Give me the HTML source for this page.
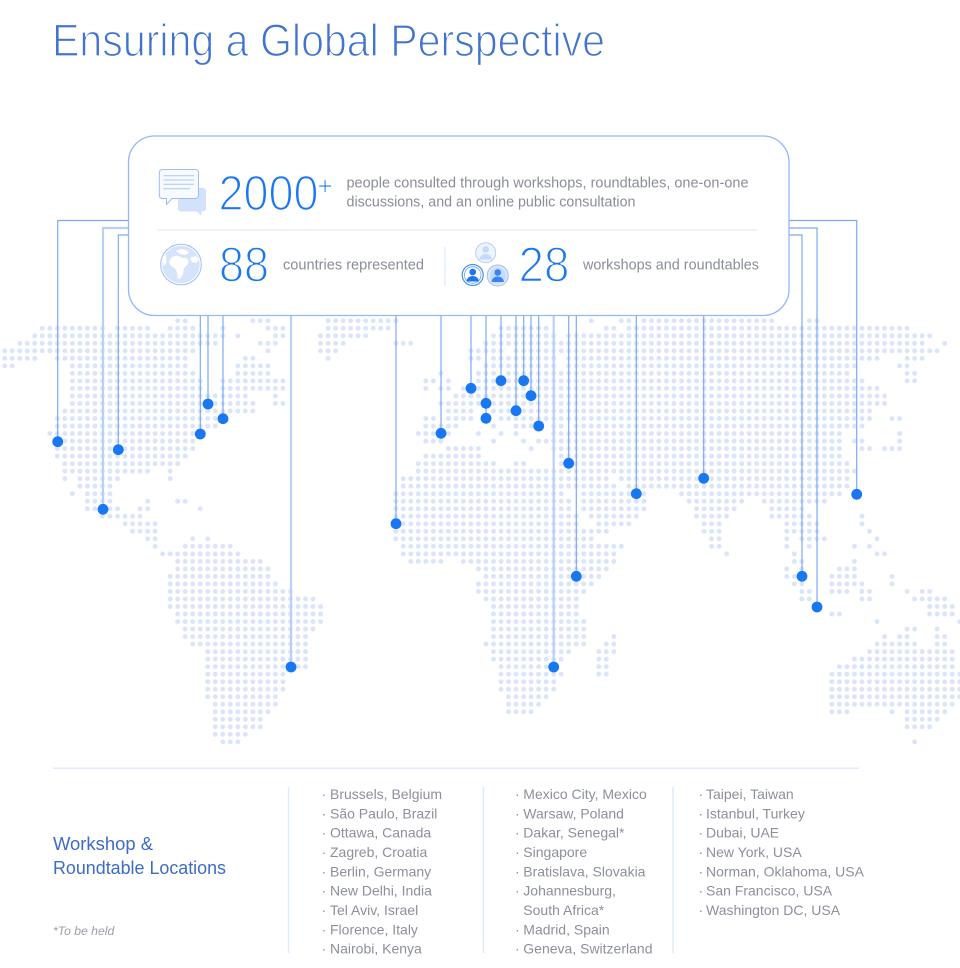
<!DOCTYPE html>
<html><head><meta charset="utf-8"><style>
html,body{margin:0;padding:0;background:#fff;}
svg{display:block;}
</style></head><body>
<svg width="960" height="968" viewBox="0 0 960 968" xmlns="http://www.w3.org/2000/svg" font-family="'Liberation Sans', sans-serif">
<defs>
<pattern id="d" width="1" height="1" patternUnits="userSpaceOnUse"><circle cx="0.5" cy="0.5" r="0.33" fill="#dae5fb"/></pattern>
</defs>
<rect width="960" height="968" fill="#fff"/>
<text x="52" y="56" font-size="45" fill="#4174cf" stroke="#fff" stroke-width="1.3" textLength="553" lengthAdjust="spacingAndGlyphs">Ensuring a Global Perspective</text>

<g transform="translate(0.94 316.94) scale(7.52)">
<path fill="url(#d)" d="
M23 0h2v1h-2z M33 0h3v1h-3z M43 0h10v1h-10z M78 0h1v1h-1z M82 0h2v1h-2z M85 0h18v1h-18z M107 0h2v1h-2z
M5 1h9v1h-9z M15 1h5v1h-5z M22 1h4v1h-4z M29 1h1v1h-1z M35 1h3v1h-3z M43 1h9v1h-9z M66 1h7v1h-7z M80 1h2v1h-2z M83 1h38v1h-38z
M4 2h26v1h-26z M31 2h1v1h-1z M36 2h2v1h-2z M42 2h7v1h-7z M65 2h9v1h-9z M75 2h49v1h-49z
M2 3h27v1h-27z M34 3h3v1h-3z M42 3h4v1h-4z M52 3h3v1h-3z M64 3h59v1h-59z M125 3h1v1h-1z
M0 4h26v1h-26z M35 4h1v1h-1z M42 4h3v1h-3z M62 4h5v1h-5z M68 4h57v1h-57z
M0 5h5v1h-5z M7 5h18v1h-18z M32 5h2v1h-2z M43 5h1v1h-1z M62 5h2v1h-2z M65 5h9v1h-9z M75 5h42v1h-42z M120 5h3v1h-3z
M0 6h2v1h-2z M9 6h16v1h-16z M31 6h5v1h-5z M64 6h10v1h-10z M75 6h39v1h-39z M119 6h2v1h-2z
M9 7h17v1h-17z M31 7h5v1h-5z M58 7h1v1h-1z M63 7h3v1h-3z M67 7h46v1h-46z M120 7h2v1h-2z
M9 8h18v1h-18z M29 8h9v1h-9z M56 8h2v1h-2z M59 8h1v1h-1z M63 8h3v1h-3z M67 8h48v1h-48z M120 8h2v1h-2z
M9 9h18v1h-18z M29 9h9v1h-9z M56 9h1v1h-1z M58 9h2v1h-2z M61 9h56v1h-56z
M9 10h24v1h-24z M36 10h1v1h-1z M60 10h58v1h-58z
M9 11h25v1h-25z M36 11h2v1h-2z M58 11h60v1h-60z
M8 12h26v1h-26z M59 12h4v1h-4z M65 12h51v1h-51z
M7 13h23v1h-23z M56 13h2v1h-2z M59 13h4v1h-4z M66 13h50v1h-50z M118 13h2v1h-2z
M7 14h22v1h-22z M56 14h5v1h-5z M65 14h1v1h-1z M68 14h4v1h-4z M73 14h2v1h-2z M76 14h39v1h-39z
M6 15h21v1h-21z M55 15h5v1h-5z M63 15h1v1h-1z M66 15h1v1h-1z M68 15h1v1h-1z M73 15h39v1h-39z M119 15h1v1h-1z
M7 16h19v1h-19z M56 16h3v1h-3z M65 16h1v1h-1z M69 16h1v1h-1z M71 16h41v1h-41z M113 16h2v1h-2z M119 16h1v1h-1z
M7 17h19v1h-19z M59 17h5v1h-5z M70 17h1v1h-1z M73 17h39v1h-39z M114 17h2v1h-2z M117 17h3v1h-3z
M7 18h18v1h-18z M56 18h8v1h-8z M74 18h38v1h-38z
M8 19h16v1h-16z M55 19h11v1h-11z M68 19h2v1h-2z M74 19h39v1h-39z
M8 20h12v1h-12z M22 20h1v1h-1z M55 20h59v1h-59z
M8 21h1v1h-1z M10 21h6v1h-6z M22 21h1v1h-1z M53 21h28v1h-28z M82 21h31v1h-31z
M10 22h5v1h-5z M53 22h29v1h-29z M83 22h30v1h-30z
M9 23h1v1h-1z M11 23h4v1h-4z M52 23h23v1h-23z M77 23h9v1h-9z M90 23h22v1h-22z
M11 24h4v1h-4z M19 24h1v1h-1z M23 24h2v1h-2z M52 24h24v1h-24z M77 24h9v1h-9z M91 24h8v1h-8z M101 24h9v1h-9z
M11 25h5v1h-5z M18 25h2v1h-2z M26 25h1v1h-1z M52 25h24v1h-24z M77 25h9v1h-9z M92 25h6v1h-6z M102 25h5v1h-5z
M13 26h6v1h-6z M52 26h25v1h-25z M78 26h7v1h-7z M92 26h5v1h-5z M102 26h6v1h-6z M114 26h1v1h-1z
M16 27h5v1h-5z M52 27h25v1h-25z M79 27h5v1h-5z M93 27h3v1h-3z M104 27h5v1h-5z M114 27h1v1h-1z
M17 28h4v1h-4z M52 28h29v1h-29z M93 28h3v1h-3z M104 28h5v1h-5z M115 28h1v1h-1z
M19 29h2v1h-2z M25 29h1v1h-1z M27 29h1v1h-1z M52 29h27v1h-27z M94 29h2v1h-2z M104 29h1v1h-1z M106 29h4v1h-4z M116 29h1v1h-1z
M20 30h1v1h-1z M24 30h7v1h-7z M53 30h30v1h-30z M94 30h2v1h-2z M104 30h1v1h-1z M107 30h1v1h-1z M113 30h1v1h-1z M115 30h1v1h-1z
M21 31h11v1h-11z M53 31h29v1h-29z M96 31h1v1h-1z M105 31h1v1h-1z M116 31h2v1h-2z
M23 32h12v1h-12z M54 32h5v1h-5z M61 32h21v1h-21z M105 32h2v1h-2z M113 32h1v1h-1z
M23 33h13v1h-13z M63 33h18v1h-18z M104 33h1v1h-1z M106 33h1v1h-1z M111 33h3v1h-3z
M22 34h14v1h-14z M64 34h16v1h-16z M104 34h3v1h-3z M110 34h4v1h-4z M118 34h1v1h-1z
M22 35h15v1h-15z M63 35h16v1h-16z M105 35h2v1h-2z M110 35h5v1h-5z M118 35h1v1h-1z
M22 36h17v1h-17z M63 36h15v1h-15z M106 36h2v1h-2z M110 36h3v1h-3z M114 36h2v1h-2z M120 36h1v1h-1z M122 36h2v1h-2z
M22 37h20v1h-20z M64 37h13v1h-13z M106 37h2v1h-2z M114 37h2v1h-2z M121 37h5v1h-5z
M22 38h21v1h-21z M65 38h12v1h-12z M123 38h4v1h-4z
M23 39h20v1h-20z M65 39h12v1h-12z M110 39h2v1h-2z M123 39h4v1h-4z
M23 40h20v1h-20z M65 40h13v1h-13z M116 40h1v1h-1z M127 40h1v1h-1z
M24 41h18v1h-18z M65 41h13v1h-13z M120 41h2v1h-2z M124 41h1v1h-1z
M24 42h17v1h-17z M65 42h13v1h-13z M81 42h1v1h-1z M117 42h1v1h-1z M119 42h2v1h-2z M124 42h2v1h-2z
M25 43h16v1h-16z M64 43h14v1h-14z M80 43h2v1h-2z M116 43h6v1h-6z M124 43h2v1h-2z
M27 44h14v1h-14z M65 44h11v1h-11z M79 44h3v1h-3z M115 44h12v1h-12z
M27 45h14v1h-14z M65 45h10v1h-10z M79 45h2v1h-2z M113 45h14v1h-14z
M27 46h14v1h-14z M66 46h8v1h-8z M79 46h2v1h-2z M111 46h16v1h-16z
M27 47h11v1h-11z M66 47h9v1h-9z M79 47h2v1h-2z M110 47h18v1h-18z
M27 48h11v1h-11z M66 48h8v1h-8z M110 48h18v1h-18z
M27 49h11v1h-11z M66 49h8v1h-8z M110 49h18v1h-18z
M27 50h10v1h-10z M67 50h6v1h-6z M110 50h18v1h-18z
M28 51h9v1h-9z M67 51h5v1h-5z M110 51h17v1h-17z
M28 52h8v1h-8z M67 52h4v1h-4z M110 52h3v1h-3z M118 52h1v1h-1z M120 52h6v1h-6z
M28 53h7v1h-7z M120 53h5v1h-5z
M28 54h7v1h-7z M120 54h4v1h-4z
M28 55h5v1h-5z
M29 56h3v1h-3z M121 56h1v1h-1z"/>
</g>

<!-- connector lines -->
<g fill="none" stroke="#7ea9f4" stroke-width="1.2">
<path d="M128 220.5H57.7V441.7"/>
<path d="M128 235H118.3V449.7"/>
<path d="M789 220.5H856.7V494.3"/>
<path d="M789 228H817V607"/>
<path d="M789 235H802V576.3"/>
<path d="M200.3 316V434"/>
<path d="M208 316V404"/>
<path d="M223 316V418.7"/>
<path d="M396 316V523.7"/>
<path d="M441 316V433.3"/>
<path d="M471 316V388.3"/>
<path d="M486 316V418.3"/>
<path d="M501 316V380.7"/>
<path d="M516 316V410.7"/>
<path d="M523.7 316V380.7"/>
<path d="M531 316V395.7"/>
<path d="M538.7 316V426"/>
<path d="M568.7 316V463.3"/>
<path d="M576.3 316V576.3"/>
<path d="M636.3 316V493.7"/>
<path d="M703.7 316V478.3"/>
</g>
<g fill="none" stroke="#b9d1f9" stroke-width="2.2">
<path d="M128 228H103V509.3"/>
<path d="M291 316V667"/>
<path d="M553.7 316V667"/>
</g>

<!-- pins -->
<g fill="#1877f2">
<circle cx="57.7" cy="441.7" r="5.4"/>
<circle cx="103" cy="509.3" r="5.4"/>
<circle cx="118.3" cy="449.7" r="5.4"/>
<circle cx="200.3" cy="434" r="5.4"/>
<circle cx="208" cy="404" r="5.4"/>
<circle cx="223" cy="418.7" r="5.4"/>
<circle cx="291" cy="667" r="5.4"/>
<circle cx="396" cy="523.7" r="5.4"/>
<circle cx="441" cy="433.3" r="5.4"/>
<circle cx="471" cy="388.3" r="5.4"/>
<circle cx="486" cy="403.3" r="5.4"/>
<circle cx="486" cy="418.3" r="5.4"/>
<circle cx="501" cy="380.7" r="5.4"/>
<circle cx="516" cy="410.7" r="5.4"/>
<circle cx="523.7" cy="380.7" r="5.4"/>
<circle cx="531" cy="395.7" r="5.4"/>
<circle cx="538.7" cy="426" r="5.4"/>
<circle cx="553.7" cy="667" r="5.4"/>
<circle cx="568.7" cy="463.3" r="5.4"/>
<circle cx="576.3" cy="576.3" r="5.4"/>
<circle cx="636.3" cy="493.7" r="5.4"/>
<circle cx="703.7" cy="478.3" r="5.4"/>
<circle cx="802" cy="576.3" r="5.4"/>
<circle cx="817" cy="607" r="5.4"/>
<circle cx="856.7" cy="494.3" r="5.4"/>
</g>

<!-- card -->
<rect x="128.5" y="136" width="660.5" height="179.5" rx="26" fill="#fff" stroke="#93b7f6" stroke-width="1.3"/>
<line x1="158" y1="230" x2="757" y2="230" stroke="#e6eefc" stroke-width="1.5"/>
<line x1="445" y1="247" x2="445" y2="286" stroke="#e6eefc" stroke-width="1.5"/>

<!-- chat icon -->
<rect x="178" y="188" width="28" height="23.5" rx="3" fill="#d3e2fb"/>
<path d="M196.5 211L201.5 216V211Z" fill="#d3e2fb"/>
<path d="M162.3 169.5H195.5a3 3 0 0 1 3 3V195.5a3 3 0 0 1 -3 3H172L166.5 204.5V198.5H162.3a3 3 0 0 1 -3 -3V172.5a3 3 0 0 1 3 -3Z" fill="#f7faff" stroke="#9dbdf6" stroke-width="1"/>
<path d="M163.5 175.7H194M163.5 180H194M163.5 184.3H194M163.5 188.7H190" stroke="#a9c6f8" stroke-width="1"/>

<!-- globe icon -->
<circle cx="181" cy="264.5" r="20.3" fill="#fff" stroke="#9dbdf6" stroke-width="1"/>
<circle cx="181" cy="264.5" r="18.8" fill="#d6e4fb"/>
<g fill="#fff">
<path d="M171 258C174 255 179 255 182 258L186 258L189 261L187 265L184 268L183 274L180 279L178 279L177 273L175 268L171 266L169 262Z"/>
<path d="M176 251L181 249L186 250L189 253L185 255L180 254Z"/>
<path d="M190 258L196 256L199 260L196 263L192 262Z"/>
<path d="M163 257L166 255L166.5 262L164 266L162.5 262Z"/>
</g>

<!-- people icon -->
<circle cx="485.7" cy="252.7" r="10" fill="#eef4fe" stroke="#b8cff8" stroke-width="1"/>
<circle cx="485.7" cy="249.5" r="3.3" fill="#c6d9fb"/>
<path d="M479.5 259.5a6.2 5.5 0 0 1 12.4 0Z" fill="#c6d9fb"/>
<circle cx="472.7" cy="275" r="10.5" fill="#fff" stroke="#4a8df5" stroke-width="1.2"/>
<circle cx="472.7" cy="275" r="8.3" fill="#fff" stroke="#6aa0f6" stroke-width="0.8"/>
<circle cx="472.7" cy="272" r="3.4" fill="#1f77f0"/>
<path d="M466.5 281.5a6.2 5.5 0 0 1 12.4 0Z" fill="#1f77f0"/>
<circle cx="497.7" cy="275.5" r="10.5" fill="#dde8fc" stroke="#9dbdf6" stroke-width="1"/>
<circle cx="497.7" cy="275.5" r="8" fill="#c7dafa"/>
<circle cx="497.7" cy="272.5" r="3.3" fill="#3b82f3"/>
<path d="M491.5 282a6.2 5.5 0 0 1 12.4 0Z" fill="#3b82f3"/>

<!-- card numbers and text -->
<g stroke="#fff" stroke-width="1.6">
<text x="218.5" y="210" font-size="49" fill="#1877f2" textLength="100" lengthAdjust="spacingAndGlyphs">2000</text>
<text x="219" y="281.7" font-size="49" fill="#1877f2" textLength="50" lengthAdjust="spacingAndGlyphs">88</text>
<text x="518.5" y="281.7" font-size="49" fill="#1877f2" textLength="51" lengthAdjust="spacingAndGlyphs">28</text>
</g>
<text x="317.5" y="195" font-size="26" fill="#1877f2" stroke="#fff" stroke-width="0.8">+</text>
<text x="346.5" y="187.5" font-size="14.5" fill="#8a8e99" textLength="402" lengthAdjust="spacingAndGlyphs">people consulted through workshops, roundtables, one-on-one</text>
<text x="346.5" y="206.5" font-size="14.5" fill="#8a8e99" textLength="289" lengthAdjust="spacingAndGlyphs">discussions, and an online public consultation</text>
<text x="283" y="269.5" font-size="14.5" fill="#8a8e99" textLength="141" lengthAdjust="spacingAndGlyphs">countries represented</text>
<text x="583" y="269.5" font-size="14.5" fill="#8a8e99" textLength="176" lengthAdjust="spacingAndGlyphs">workshops and roundtables</text>

<!-- bottom section -->
<line x1="53" y1="768.3" x2="859" y2="768.3" stroke="#e1ebfc" stroke-width="1.5"/>
<text x="53" y="850" font-size="18" fill="#3d6cc7" textLength="100" lengthAdjust="spacingAndGlyphs">Workshop &amp;</text>
<text x="53" y="874" font-size="18" fill="#3d6cc7" textLength="173" lengthAdjust="spacingAndGlyphs">Roundtable Locations</text>
<text x="53" y="935" font-size="12.2" font-style="italic" fill="#9b9ea6">*To be held</text>
<g stroke="#dfe9fc" stroke-width="1.5">
<line x1="288.5" y1="787" x2="288.5" y2="953"/>
<line x1="483.5" y1="787" x2="483.5" y2="953"/>
<line x1="673" y1="787" x2="673" y2="953"/>
</g>
<g font-size="14" fill="#8c909a">
<text x="321.5" y="799">·</text><text x="330" y="799">Brussels, Belgium</text>
<text x="321.5" y="818.3">·</text><text x="330" y="818.3">São Paulo, Brazil</text>
<text x="321.5" y="837.7">·</text><text x="330" y="837.7">Ottawa, Canada</text>
<text x="321.5" y="857">·</text><text x="330" y="857">Zagreb, Croatia</text>
<text x="321.5" y="876.3">·</text><text x="330" y="876.3">Berlin, Germany</text>
<text x="321.5" y="895.7">·</text><text x="330" y="895.7">New Delhi, India</text>
<text x="321.5" y="915">·</text><text x="330" y="915">Tel Aviv, Israel</text>
<text x="321.5" y="934.3">·</text><text x="330" y="934.3">Florence, Italy</text>
<text x="321.5" y="953.7">·</text><text x="330" y="953.7">Nairobi, Kenya</text>

<text x="515" y="799">·</text><text x="523.3" y="799">Mexico City, Mexico</text>
<text x="515" y="818.3">·</text><text x="523.3" y="818.3">Warsaw, Poland</text>
<text x="515" y="837.7">·</text><text x="523.3" y="837.7">Dakar, Senegal*</text>
<text x="515" y="857">·</text><text x="523.3" y="857">Singapore</text>
<text x="515" y="876.3">·</text><text x="523.3" y="876.3">Bratislava, Slovakia</text>
<text x="515" y="895.7">·</text><text x="523.3" y="895.7">Johannesburg,</text>
<text x="523.3" y="915">South Africa*</text>
<text x="515" y="934.3">·</text><text x="523.3" y="934.3">Madrid, Spain</text>
<text x="515" y="953.7">·</text><text x="523.3" y="953.7">Geneva, Switzerland</text>

<text x="698.5" y="799">·</text><text x="706" y="799">Taipei, Taiwan</text>
<text x="698.5" y="818.3">·</text><text x="706" y="818.3">Istanbul, Turkey</text>
<text x="698.5" y="837.7">·</text><text x="706" y="837.7">Dubai, UAE</text>
<text x="698.5" y="857">·</text><text x="706" y="857">New York, USA</text>
<text x="698.5" y="876.3">·</text><text x="706" y="876.3">Norman, Oklahoma, USA</text>
<text x="698.5" y="895.7">·</text><text x="706" y="895.7">San Francisco, USA</text>
<text x="698.5" y="915">·</text><text x="706" y="915">Washington DC, USA</text>
</g>
</svg>
</body></html>
